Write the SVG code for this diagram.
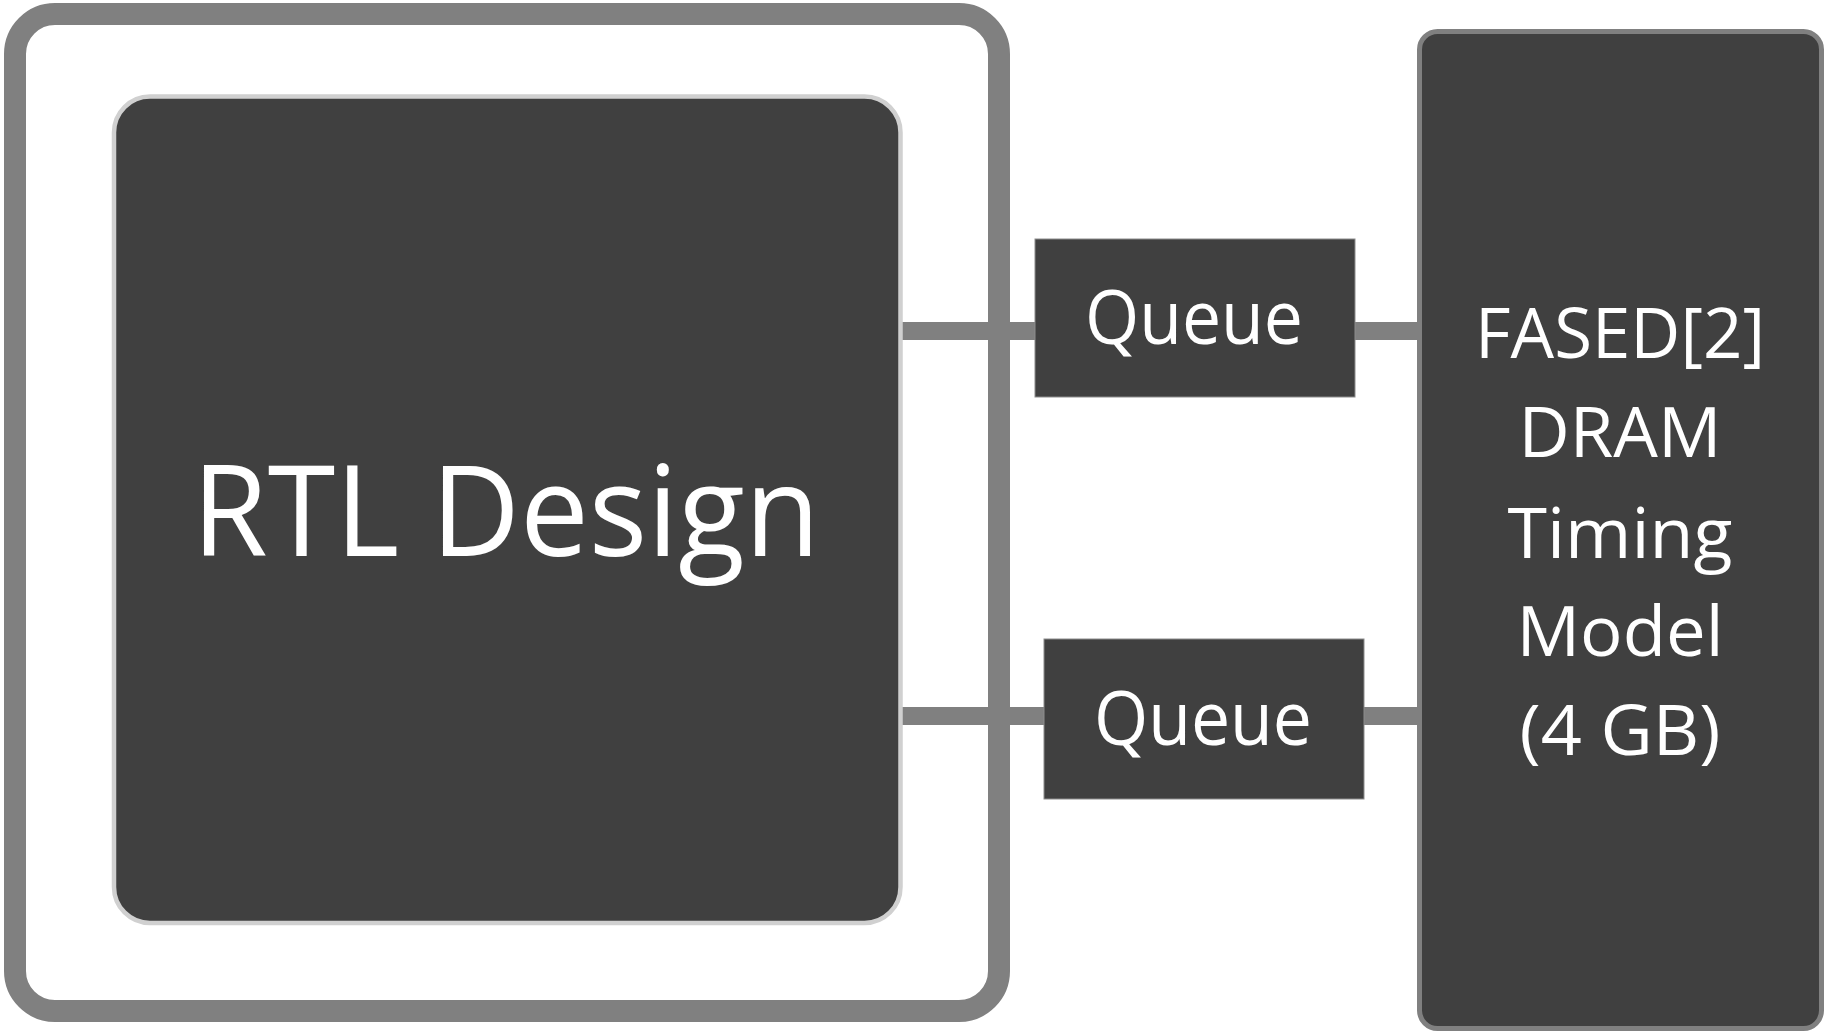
<svg xmlns="http://www.w3.org/2000/svg" width="1824" height="1035" viewBox="0 0 1824 1035">
<style>
.dark{fill:#404040}
.lbl{fill:#ffffff;font-family:"Open Sans","Noto Sans","DejaVu Sans",sans-serif;text-anchor:middle}
.conn{stroke:#808080;stroke-width:18;fill:none}
</style>
<rect width="1824" height="1035" fill="#ffffff"/>
<g id="connectors">
<line class="conn" x1="900" y1="331" x2="1036" y2="331"/>
<line class="conn" x1="1354" y1="331" x2="1420" y2="331"/>
<line class="conn" x1="900" y1="716" x2="1045" y2="716"/>
<line class="conn" x1="1363" y1="716" x2="1420" y2="716"/>
</g>
<g id="fpga-frame">
<rect x="15" y="14" width="984" height="997" rx="40" fill="none" stroke="#808080" stroke-width="22"/>
</g>
<g id="rtl-design">
<rect class="dark" x="114" y="96.5" width="786.5" height="826.5" rx="36" stroke="#d0d0d0" stroke-width="4.5"/>
<text class="lbl" x="506" y="556" font-size="127" textLength="628" lengthAdjust="spacingAndGlyphs">RTL Design</text>
</g>
<g id="queue-1">
<rect class="dark" x="1035" y="239" width="320" height="158" stroke="#8c8c8c" stroke-width="1"/>
<text class="lbl" x="1194" y="344" font-size="75" textLength="218" lengthAdjust="spacingAndGlyphs">Queue</text>
</g>
<g id="queue-2">
<rect class="dark" x="1044" y="639" width="320" height="160" stroke="#8c8c8c" stroke-width="1"/>
<text class="lbl" x="1203" y="744.5" font-size="75" textLength="218" lengthAdjust="spacingAndGlyphs">Queue</text>
</g>
<g id="fased">
<rect class="dark" x="1419.5" y="31.5" width="402" height="997" rx="18" stroke="#808080" stroke-width="5"/>
<text class="lbl" x="1620" y="358" font-size="70" textLength="290" lengthAdjust="spacingAndGlyphs">FASED[2]</text>
<text class="lbl" x="1620" y="457" font-size="70" textLength="203" lengthAdjust="spacingAndGlyphs">DRAM</text>
<text class="lbl" x="1620" y="558" font-size="70" textLength="225" lengthAdjust="spacingAndGlyphs">Timing</text>
<text class="lbl" x="1620" y="656" font-size="70" textLength="207" lengthAdjust="spacingAndGlyphs">Model</text>
<text class="lbl" x="1620" y="755" font-size="70" textLength="201" lengthAdjust="spacingAndGlyphs">(4 GB)</text>
</g>
</svg>
